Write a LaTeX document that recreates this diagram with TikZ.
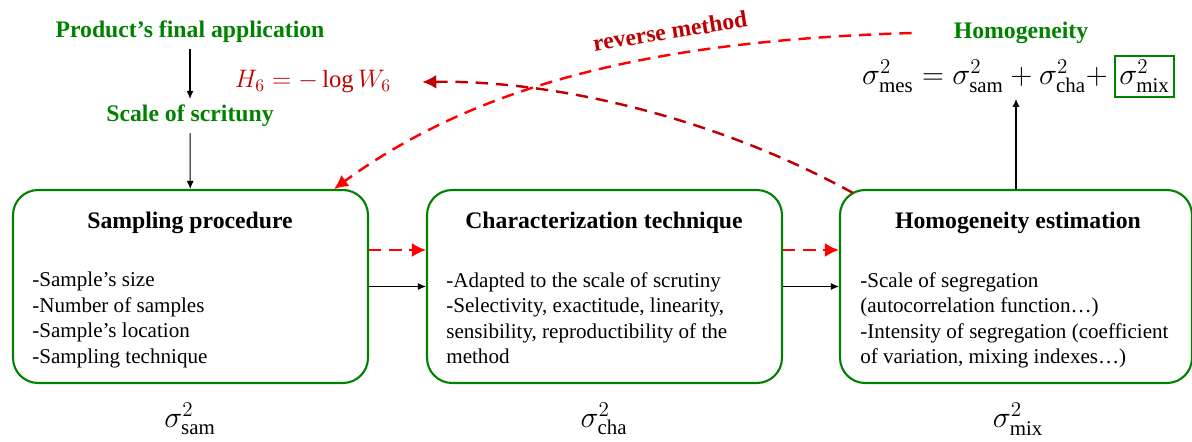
\documentclass[tikz,border=0pt]{standalone}
\usepackage{fontspec}
\setmainfont{Liberation Serif}
\usetikzlibrary{arrows.meta,positioning}
\definecolor{boxgreen}{RGB}{0,130,0}
\definecolor{darkred}{RGB}{192,0,0}

\begin{document}
\begin{tikzpicture}[x=0.02cm,y=-0.02cm,
  box/.style={draw=boxgreen,line width=1.2pt,rounded corners=0.5cm,minimum width=7.1cm,minimum height=3.86cm},
  boxtitle/.style={font=\fontsize{13.5}{16}\selectfont\bfseries},
  boxbody/.style={font=\fontsize{12}{14.5}\selectfont,align=left,anchor=north west,inner sep=0pt},
  glabel/.style={text=boxgreen,font=\fontsize{13.5}{16}\selectfont\bfseries},
  sig/.style={font=\fontsize{17}{20}\selectfont},
  flow/.style={-{Latex[length=1.6mm,width=1.4mm]},line width=0.6pt},
  rev/.style={red,line width=1.4pt,dash pattern=on 7pt off 4.5pt,-{Latex[length=2.8mm,width=2.8mm]}}]
\useasboundingbox (0,0) rectangle (1192,442);

% the three steps
\node[box] (samp) at (190.5,286.5) {};
\node[box] (charac) at (604.5,286.5) {};
\node[box,minimum width=7.04cm] (hom) at (1016,286.5) {};

\node[boxtitle] (sampt) at (190,223) {Sampling procedure};
\node[boxtitle] (charact) at (604,223) {Characterization technique};
\node[boxtitle] (homt) at (1018,223) {Homogeneity estimation};

\node[boxbody] (sampb) at (32,272) {-Sample’s size\\-Number of samples\\-Sample’s location\\-Sampling technique};
\node[boxbody] (characb) at (446,272) {-Adapted to the scale of scrutiny\\-Selectivity, exactitude, linearity,\\sensibility, reproductibility of the\\method};
\node[boxbody] (homb) at (860,272) {-Scale of segregation\\(autocorrelation function…)\\-Intensity of segregation (coefficient\\of variation, mixing indexes…)};

% variances below
\node[sig] (ssam) at (190,419) {$\sigma^2_{\mathrm{sam}}$};
\node[sig] (scha) at (604,419) {$\sigma^2_{\mathrm{cha}}$};
\node[sig] (smix) at (1018,419) {$\sigma^2_{\mathrm{mix}}$};

% top labels
\node[glabel] (app) at (190,32) {Product’s final application};
\node[glabel] (scale) at (190,116) {Scale of scrituny};
\node[glabel] (homlab) at (1021,33) {Homogeneity};
\node[sig,anchor=base east] (mes) at (1114,85) {$\sigma^2_{\mathrm{mes}}=\sigma^2_{\mathrm{sam}}+\sigma^2_{\mathrm{cha}}+$};
\node[sig,draw=boxgreen,line width=1.2pt,inner sep=2.5pt,anchor=base west] (mixbox) at (mes.base east) {$\sigma^2_{\mathrm{mix}}$};
\node[sig,text=darkred,font=\fontsize{14}{17}\selectfont] (hsix) at (313,82) {$H_6=-\log W_6$};
\node[boxtitle,text=darkred,rotate=9] (revlab) at (670,31) {reverse method};

\path[flow] (app) edge (scale)
	(scale) edge (samp)
	(samp) edge (charac)
	(charac) edge (hom)
	(hom) edge (hom.north |- mes.south);

\draw[rev] ([yshift=0.73cm]samp.east) -- ([yshift=0.73cm]charac.west);
\draw[rev] ([yshift=0.73cm]charac.east) -- ([yshift=0.73cm]hom.west);

% reverse method
\coordinate (revstart) at ([xshift=-0.72cm]homlab.west);
\draw[rev] (revstart) .. controls (680,40) and (490,75) .. ([xshift=-0.7cm]samp.north east);
\draw[rev,darkred] ([xshift=0.28cm,yshift=-0.08cm]hom.north west) .. controls (720,120) and (560,80) .. ([xshift=0.5cm]hsix.east);
\end{tikzpicture}
\end{document}
